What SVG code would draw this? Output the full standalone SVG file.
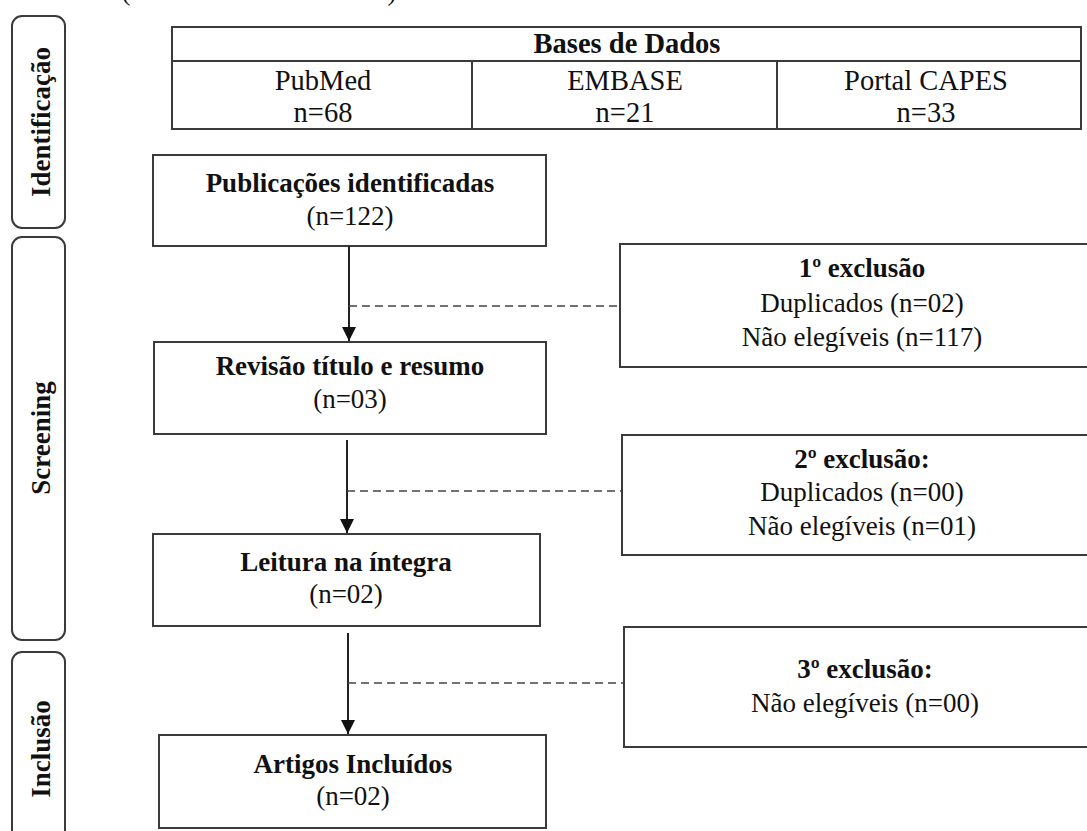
<svg xmlns="http://www.w3.org/2000/svg" width="1087" height="831" viewBox="0 0 1087 831">
<defs>
<style>
.t{font-family:"Liberation Serif","Times New Roman",serif;font-size:27px;fill:#111;text-anchor:middle}
.tb{font-size:28.5px}
.b{font-weight:bold}
.box{fill:#fff;stroke:#3a3a3a;stroke-width:2}
.stage{fill:#fff;stroke:#3a3a3a;stroke-width:2}
.ln{stroke:#3a3a3a;stroke-width:2;fill:none}
.arr{stroke:#222;stroke-width:2;fill:none;marker-end:url(#ah)}
.dash{stroke:#444;stroke-width:1.5;fill:none;stroke-dasharray:8 5}
</style>
<marker id="ah" viewBox="0 0 10 10" refX="10" refY="5" markerUnits="userSpaceOnUse" markerWidth="14" markerHeight="14" orient="auto">
<path d="M0,0 L10,5 L0,10 z" fill="#111"/>
</marker>
</defs>
<rect width="1087" height="831" fill="#fff"/>
<text class="t" x="126" y="0">(</text>
<text class="t" x="392" y="0">)</text>

<g id="stage-identificacao">
<rect class="stage" x="12" y="16" width="53" height="212" rx="10"/>
<text class="t b" transform="translate(50,122) rotate(-90)">Identificação</text>
</g>
<g id="stage-screening">
<rect class="stage" x="12" y="237" width="53" height="403" rx="10"/>
<text class="t b" transform="translate(50,438) rotate(-90)">Screening</text>
</g>
<g id="stage-inclusao">
<rect class="stage" x="12" y="652" width="53" height="200" rx="10"/>
<text class="t b" transform="translate(50,749) rotate(-90)">Inclusão</text>
</g>

<g id="bases-de-dados">
<rect class="box" x="172" y="27" width="909" height="102"/>
<line class="ln" x1="172" y1="61" x2="1081" y2="61"/>
<line class="ln" x1="472" y1="61" x2="472" y2="129"/>
<line class="ln" x1="777" y1="61" x2="777" y2="129"/>
<text class="t tb b" x="627" y="53">Bases de Dados</text>
<text class="t tb" x="323" y="90">PubMed</text>
<text class="t tb" x="323" y="122">n=68</text>
<text class="t tb" x="625" y="90">EMBASE</text>
<text class="t tb" x="625" y="122">n=21</text>
<text class="t tb" x="926" y="90">Portal CAPES</text>
<text class="t tb" x="926" y="122">n=33</text>
</g>

<g id="publicacoes">
<rect class="box" x="153" y="155" width="393" height="91"/>
<text class="t b" x="350" y="192">Publicações identificadas</text>
<text class="t" x="350" y="225">(n=122)</text>
</g>
<g id="revisao">
<rect class="box" x="154" y="342" width="392" height="92"/>
<text class="t b" x="350" y="375">Revisão título e resumo</text>
<text class="t" x="350" y="408">(n=03)</text>
</g>
<g id="leitura">
<rect class="box" x="153" y="534" width="387" height="92"/>
<text class="t b" x="346" y="571">Leitura na íntegra</text>
<text class="t" x="346" y="603">(n=02)</text>
</g>
<g id="artigos">
<rect class="box" x="159" y="735" width="387" height="93"/>
<text class="t b" x="353" y="773">Artigos Incluídos</text>
<text class="t" x="353" y="805">(n=02)</text>
</g>

<g id="exclusao1">
<rect class="box" x="620" y="244" width="480" height="123"/>
<text class="t b" x="862" y="277">1º exclusão</text>
<text class="t" x="862" y="312">Duplicados (n=02)</text>
<text class="t" x="862" y="346">Não elegíveis (n=117)</text>
</g>
<g id="exclusao2">
<rect class="box" x="622" y="435" width="480" height="120"/>
<text class="t b" x="862" y="468">2º exclusão:</text>
<text class="t" x="862" y="501">Duplicados (n=00)</text>
<text class="t" x="862" y="535">Não elegíveis (n=01)</text>
</g>
<g id="exclusao3">
<rect class="box" x="624" y="627" width="480" height="120"/>
<text class="t b" x="865" y="678">3º exclusão:</text>
<text class="t" x="865" y="712">Não elegíveis (n=00)</text>
</g>

<g id="connectors">
<line class="arr" x1="349" y1="246" x2="349" y2="341"/>
<line class="arr" x1="347" y1="440" x2="347" y2="533"/>
<line class="arr" x1="348" y1="633" x2="348" y2="734"/>
<line class="dash" x1="349" y1="306" x2="620" y2="306"/>
<line class="dash" x1="347" y1="491" x2="622" y2="491"/>
<line class="dash" x1="348" y1="683" x2="624" y2="683"/>
</g>
</svg>
